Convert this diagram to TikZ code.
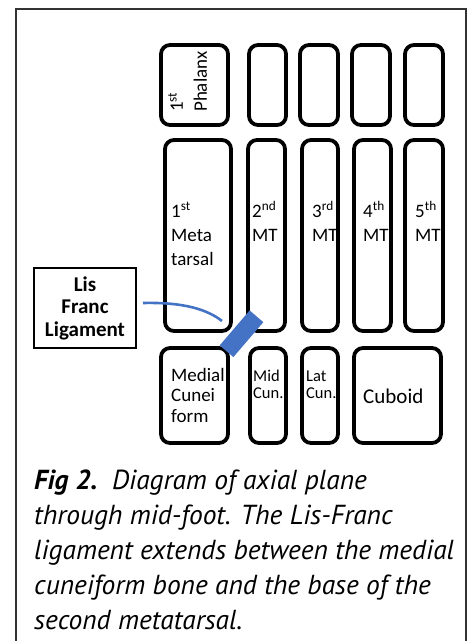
\documentclass[tikz,border=0pt]{standalone}
\usepackage{fontspec}
\setmainfont{Carlito}
\newfontfamily\capfont{PT Sans}
\definecolor{ligblue}{HTML}{4472C4}
\definecolor{framegray}{HTML}{333333}

\begin{document}
\begin{tikzpicture}[x=1pt,y=-1pt,
  bone/.style={draw=black, line width=3.8pt, rounded corners=9pt, inner sep=0pt},
  lbl/.style={anchor=base west, inner sep=0pt, align=left,
    font=\fontsize{19}{24}\selectfont},
  smalllbl/.style={lbl, font=\fontsize{16.5}{17}\selectfont},
  ligline/.style={draw=ligblue, line width=2.6pt},
  ligbar/.style={fill=ligblue, draw=none, inner sep=0pt,
    minimum width=46pt, minimum height=18pt},
  callout/.style={draw=black, line width=1.4pt, inner sep=0pt,
    minimum width=102pt, minimum height=80pt},
  calloutlbl/.style={inner sep=0pt, align=center,
    font=\fontsize{21}{22.5}\selectfont\bfseries}
]
\useasboundingbox (0,0) rectangle (471,641);

% figure frame, open at the bottom
\draw[framegray, line width=1.4pt] (16,641) -- (16,9) -- (466,9) -- (466,641);

% phalanges
\node[bone, minimum width=67pt, minimum height=80pt] (p1) at (194.5,85) {};
\node[bone, minimum width=37pt, minimum height=80pt] (p2) at (267.5,85) {};
\node[bone, minimum width=38pt, minimum height=80pt] (p3) at (319,85) {};
\node[bone, minimum width=38pt, minimum height=80pt] (p4) at (371,85) {};
\node[bone, minimum width=38pt, minimum height=80pt] (p5) at (424,85) {};

% metatarsals
\node[bone, minimum width=66pt, minimum height=191pt] (m1) at (198,235.5) {};
\node[bone, minimum width=37pt, minimum height=191pt] (m2) at (266.5,235.5) {};
\node[bone, minimum width=36pt, minimum height=191pt] (m3) at (320,235.5) {};
\node[bone, minimum width=37pt, minimum height=191pt] (m4) at (372.5,235.5) {};
\node[bone, minimum width=38pt, minimum height=191pt] (m5) at (424,235.5) {};

% cuneiforms and cuboid
\node[bone, minimum width=67pt, minimum height=95pt] (c1) at (194.5,395.5) {};
\node[bone, minimum width=36pt, minimum height=95pt] (c2) at (268,395.5) {};
\node[bone, minimum width=36pt, minimum height=95pt] (c3) at (320,395.5) {};
\node[bone, minimum width=87pt, minimum height=95pt] (cub) at (397.5,395.5) {};

% bone labels (base anchor = baseline of the last line)
\node[lbl, rotate=90, anchor=north west] (p1t) at (168,112) {1\textsuperscript{st}\\Phalanx};
\node[lbl] (m1t) at (171,265) {1\textsuperscript{st}\\Meta\\tarsal};
\node[lbl] (m2t) at (252,241) {2\textsuperscript{nd}\\MT};
\node[lbl] (m3t) at (312,241) {3\textsuperscript{rd}\\MT};
\node[lbl] (m4t) at (363,241) {4\textsuperscript{th}\\MT};
\node[lbl] (m5t) at (415,241) {5\textsuperscript{th}\\MT};
\node[lbl, font=\fontsize{19}{20.5}\selectfont] (c1t) at (171,422) {Medial\\Cunei\\form};
\node[smalllbl] (c2t) at (253,398) {Mid\\Cun.};
\node[smalllbl] (c3t) at (306,398) {Lat\\Cun.};
\node[lbl, font=\fontsize{21}{24}\selectfont] (cubt) at (363,403) {Cuboid};

% Lisfranc ligament and its callout
\node[ligbar, rotate=49.4] (lig) at (241.5,333.75) {};
\node[callout] (lf) at (85,308) {};
\node[calloutlbl] (lft) at (lf.center) {Lis\\Franc\\Ligament};
\coordinate (lfstart) at (143,303);
\coordinate (lfend) at (222,321);
\draw[ligline] (lfstart) .. controls (185,302) and (208,310) .. (lfend);

% caption
\node[anchor=base west, inner sep=0pt, align=left,
  font=\capfont\itshape\fontsize{27.5}{35}\selectfont] (cap) at (34,629)
  {\textbf{Fig 2.}\ \ Diagram of axial plane\\
   through mid-foot. The Lis-Franc\\
   ligament extends between the medial\\
   cuneiform bone and the base of the\\
   second metatarsal.};
\end{tikzpicture}
\end{document}
